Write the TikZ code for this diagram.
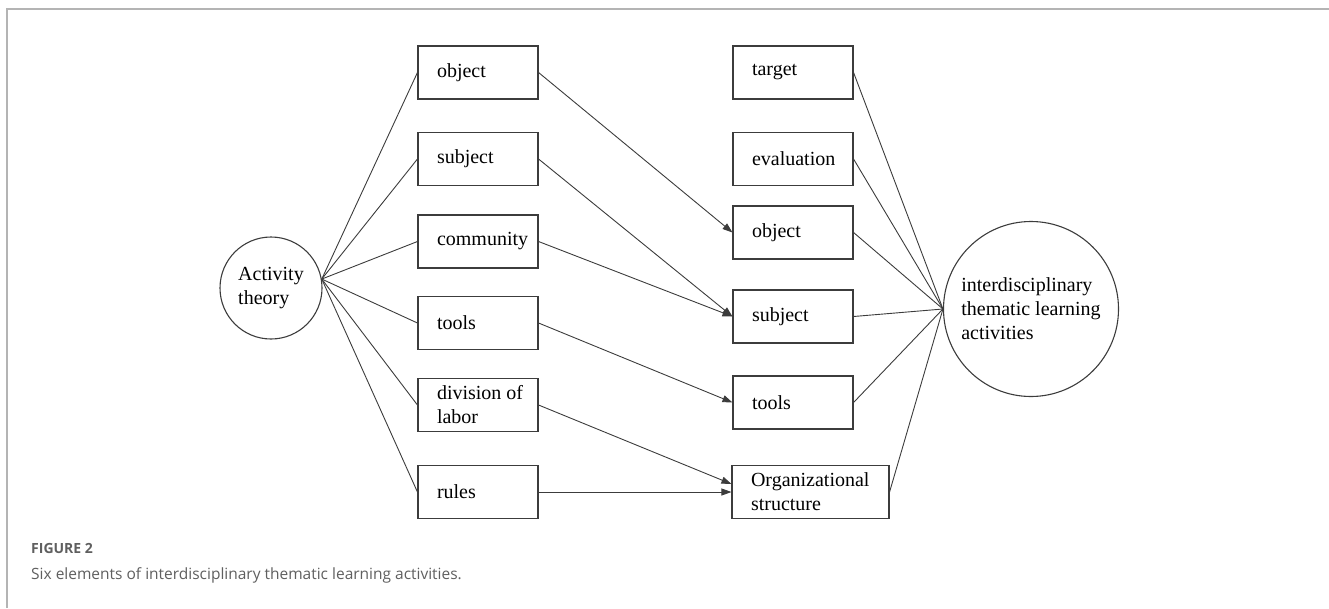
\documentclass[tikz,border=0pt]{standalone}
\usepackage{fontspec}
\setmainfont{Liberation Serif}
\newfontfamily\capfont{Open Sans}
\usetikzlibrary{arrows.meta}
\definecolor{edgegray}{RGB}{60,60,60}
\definecolor{framegray}{RGB}{180,180,180}
\definecolor{capgray}{RGB}{95,95,95}
\begin{document}
\begin{tikzpicture}[x=1pt,y=-1pt,
    elem/.style={draw=edgegray, line width=1.1pt, rectangle, minimum height=53pt,
      inner xsep=0pt, text width=120pt, align=flush left,
      execute at begin node={\leftskip=19pt}, font=\fontsize{20}{24}\selectfont},
    hub/.style={draw=edgegray, line width=1.1pt, circle, inner sep=0pt, align=left,
      font=\fontsize{20}{24}\selectfont},
    spoke/.style={draw=edgegray, line width=0.9pt},
    flow/.style={draw=edgegray, line width=0.9pt, -{Triangle[length=10pt,width=7pt]}},
    caption/.style={anchor=base west, inner sep=0pt, text=capgray}]
  \useasboundingbox (0,0) rectangle (1329,608);
  \draw[framegray, line width=1.6pt] (7,608) |- (1329,9);
  \draw
    (271,288) node[hub, minimum size=102pt] (act){Activity\\theory}
    (478,72.5) node[elem] (lobj){object}
    (478,159) node[elem] (lsubj){subject}
    (478,241.5) node[elem] (lcomm){community}
    (478,323) node[elem] (ltools){tools}
    (478,405) node[elem] (ldiv){division of\\labor}
    (478,492) node[elem] (lrules){rules}
    (793,72.5) node[elem] (rtarget){target}
    (793,159) node[elem] (reval){evaluation}
    (793,232.5) node[elem] (robj){object}
    (793,316.5) node[elem] (rsubj){subject}
    (793,402.5) node[elem] (rtools){tools}
    (810.5,492) node[elem, text width=157pt] (rorg){Organizational\\structure}
    (1031,309) node[hub, minimum size=175pt] (goal){interdisciplinary\\thematic learning\\activities};
  \begin{scope}[spoke]
    \draw (act.10) to (lobj.west);
    \draw (act.10) to (lsubj.west);
    \draw (act.10) to (lcomm.west);
    \draw (act.10) to (ltools.west);
    \draw (act.10) to (ldiv.west);
    \draw (act.10) to (lrules.west);
  \end{scope}
  \begin{scope}[flow]
    \draw (lobj.east) to (robj.west);
    \draw (lsubj.east) to (rsubj.west);
    \draw (lcomm.east) to (rsubj.west);
    \draw (ltools.east) to (rtools.west);
    \draw (ldiv.east) to ([yshift=8pt]rorg.west);
    \draw (lrules.east) to (rorg.west);
  \end{scope}
  \begin{scope}[spoke]
    \draw (rtarget.east) to (goal.west);
    \draw (reval.east) to (goal.west);
    \draw (robj.east) to (goal.west);
    \draw (rsubj.east) to (goal.west);
    \draw (rtools.east) to (goal.west);
    \draw (rorg.east) to (goal.west);
  \end{scope}
  \node[caption, font=\capfont\bfseries\fontsize{14}{16}\selectfont] (figno) at (31,553) {FIGURE 2};
  \node[caption, font=\capfont\fontsize{15.5}{18}\selectfont] (figtext) at (31,579)
    {Six elements of interdisciplinary thematic learning activities.};
\end{tikzpicture}
\end{document}
